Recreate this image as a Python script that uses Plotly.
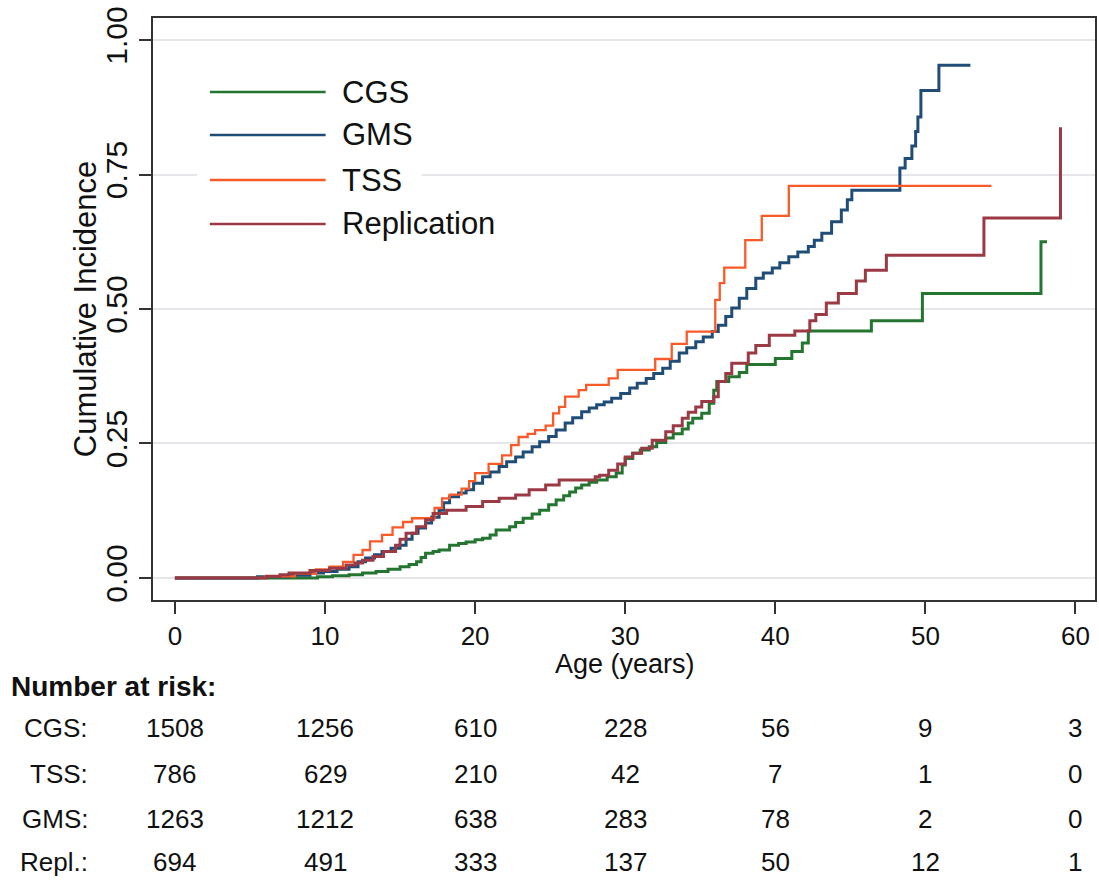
import plotly.graph_objects as go

# ---------------- data ----------------
cgs_age = [0, 9.5, 10.5, 11.6, 12.5, 13.4, 14.2, 15.0, 15.6, 16.1, 16.4, 16.7, 17.2, 17.6, 18.3, 18.9,
           19.4, 20.0, 20.5, 21.0, 21.4, 22.3, 22.7, 23.2, 23.8, 24.3, 24.9, 25.4, 25.9, 26.3, 26.7,
           27.1, 27.6, 28.1, 28.8, 29.4, 29.8, 30.0, 30.5, 31.0, 31.6, 32.1, 32.7, 33.2, 33.8, 34.2,
           34.5, 35.1, 35.6, 35.9, 36.1, 36.9, 37.6, 38.1, 40.0, 41.1, 41.8, 42.2, 46.4, 49.8, 57.7, 58.1]
cgs_ci = [0, 0.002, 0.004, 0.006, 0.009, 0.012, 0.016, 0.021, 0.025, 0.030, 0.038, 0.046, 0.049, 0.052,
          0.061, 0.064, 0.067, 0.071, 0.074, 0.080, 0.089, 0.095, 0.103, 0.111, 0.119, 0.126, 0.136,
          0.145, 0.153, 0.160, 0.167, 0.173, 0.178, 0.182, 0.188, 0.195, 0.210, 0.222, 0.232, 0.238,
          0.244, 0.252, 0.260, 0.268, 0.277, 0.288, 0.297, 0.306, 0.325, 0.349, 0.365, 0.374, 0.382,
          0.397, 0.408, 0.421, 0.437, 0.459, 0.478, 0.529, 0.625, 0.625]

gms_age = [0, 5.5, 7.6, 9.0, 9.9, 10.8, 11.6, 12.2, 12.7, 13.3, 13.8, 14.4, 15.0, 15.4, 15.8, 16.2,
           16.7, 17.1, 17.6, 17.9, 18.3, 18.9, 19.4, 19.9, 20.5, 21.0, 21.6, 22.1, 22.7, 23.2, 23.8,
           24.3, 24.9, 25.4, 26.0, 26.5, 27.1, 27.6, 28.1, 28.6, 29.1, 29.7, 30.3, 30.8, 31.4, 31.9,
           32.5, 33.0, 33.6, 34.1, 34.7, 35.2, 35.8, 36.2, 36.7, 37.1, 37.6, 38.1, 38.7, 39.2, 39.8,
           40.3, 40.9, 41.5, 42.2, 42.6, 43.1, 43.75, 44.4, 44.8, 45.1, 48.3, 48.65, 49.1, 49.35,
           49.5, 49.7, 50.9, 53.0]
gms_ci = [0, 0.002, 0.005, 0.009, 0.012, 0.016, 0.021, 0.030, 0.037, 0.043, 0.049, 0.055, 0.061,
          0.072, 0.083, 0.093, 0.102, 0.113, 0.126, 0.140, 0.151, 0.158, 0.164, 0.176, 0.188, 0.197,
          0.207, 0.216, 0.225, 0.234, 0.244, 0.253, 0.263, 0.275, 0.288, 0.298, 0.309, 0.316, 0.322,
          0.327, 0.334, 0.343, 0.353, 0.362, 0.371, 0.380, 0.390, 0.403, 0.418, 0.428, 0.439, 0.448,
          0.458, 0.470, 0.486, 0.502, 0.520, 0.538, 0.557, 0.567, 0.576, 0.586, 0.597, 0.606, 0.616,
          0.628, 0.641, 0.662, 0.684, 0.703, 0.721, 0.762, 0.780, 0.803, 0.830, 0.857, 0.906, 0.953,
          0.953]

tss_age = [0, 6.0, 8.0, 9.4, 10.3, 11.2, 11.9, 12.5, 13.0, 13.8, 14.5, 15.2, 15.8, 17.3, 17.8, 18.3,
           19.1, 19.6, 20.0, 20.9, 21.8, 22.4, 22.9, 23.5, 24.0, 24.7, 25.2, 25.6, 26.0, 26.9, 27.4,
           28.9, 29.5, 32.0, 33.1, 34.1, 36.0, 36.3, 36.6, 38.0, 39.1, 40.9, 54.4]
tss_ci = [0, 0.003, 0.008, 0.016, 0.021, 0.030, 0.043, 0.052, 0.068, 0.080, 0.094, 0.104, 0.111,
          0.130, 0.148, 0.155, 0.166, 0.180, 0.195, 0.212, 0.228, 0.247, 0.262, 0.268, 0.275, 0.283,
          0.306, 0.318, 0.337, 0.349, 0.359, 0.371, 0.387, 0.407, 0.435, 0.458, 0.517, 0.548, 0.577,
          0.628, 0.673, 0.729, 0.729]

rep_age = [0, 6.1, 7.0, 7.6, 9.0, 10.3, 11.4, 12.0, 12.5, 13.2, 13.9, 14.7, 15.0, 15.4, 16.1, 16.7,
           17.2, 18.1, 19.4, 20.5, 21.6, 22.7, 23.6, 24.7, 25.6, 28.0, 28.3, 28.9, 29.5, 30.0, 30.5,
           31.1, 31.8, 32.7, 33.2, 33.8, 34.2, 34.7, 35.1, 35.9, 36.2, 36.7, 37.1, 38.2, 38.7, 39.6,
           41.3, 42.3, 42.7, 43.4, 44.2, 45.4, 46.0, 47.4, 53.9, 59.0]
rep_ci = [0, 0.003, 0.006, 0.009, 0.014, 0.018, 0.024, 0.028, 0.033, 0.040, 0.049, 0.061, 0.072,
          0.083, 0.095, 0.108, 0.120, 0.126, 0.133, 0.142, 0.148, 0.154, 0.164, 0.173, 0.182, 0.188,
          0.191, 0.200, 0.212, 0.225, 0.232, 0.241, 0.256, 0.272, 0.283, 0.297, 0.308, 0.318, 0.328,
          0.337, 0.365, 0.380, 0.399, 0.418, 0.432, 0.451, 0.459, 0.478, 0.490, 0.511, 0.529, 0.552,
          0.572, 0.600, 0.669, 0.838]

series_names = ["CGS", "GMS", "TSS", "Replication"]
series_colors = ["#237530", "#1f4d78", "#fa5a28", "#9b3a44"]
series_widths = [3, 3, 2.3, 3]

x_ticks = [0, 10, 20, 30, 40, 50, 60]
y_ticks = [0, 0.25, 0.5, 0.75, 1.0]
y_tick_labels = ["0.00", "0.25", "0.50", "0.75", "1.00"]

risk_groups = ["CGS:", "TSS:", "GMS:", "Repl.:"]
risk_cgs = [1508, 1256, 610, 228, 56, 9, 3]
risk_tss = [786, 629, 210, 42, 7, 1, 0]
risk_gms = [1263, 1212, 638, 283, 78, 2, 0]
risk_rep = [694, 491, 333, 137, 50, 12, 1]

# ---------------- figure ----------------
FONT = "Liberation Sans, Arial, Helvetica, sans-serif"
TXT = "#111111"
W, H = 1099, 885
L, R, T, B = 153, 2, 18, 285
PW, PH = W - L - R, H - T - B


def px_x(px):
    return (px - L) / PW


def px_y(py):
    return (H - B - py) / PH


fig = go.Figure()
ages = [cgs_age, gms_age, tss_age, rep_age]
cis = [cgs_ci, gms_ci, tss_ci, rep_ci]
for name, a, c, col, w in zip(series_names, ages, cis, series_colors, series_widths):
    fig.add_trace(go.Scatter(x=a, y=c, mode="lines", name=name,
                             line=dict(color=col, width=w, shape="hv"),
                             showlegend=False))

shapes = []
annotations = []

# legend (drawn manually for long keys)
shapes.append(dict(type="rect", xref="paper", yref="paper",
                   x0=px_x(197), x1=px_x(422), y0=px_y(250), y1=px_y(62),
                   fillcolor="white", line=dict(width=0), layer="above"))
legend_rows = [92, 135, 180, 224]
for name, col, py in zip(series_names, series_colors, legend_rows):
    shapes.append(dict(type="line", xref="paper", yref="paper",
                       x0=px_x(210), x1=px_x(326), y0=px_y(py), y1=px_y(py),
                       line=dict(color=col, width=2.5), layer="above"))
    annotations.append(dict(text=name, xref="paper", yref="paper", x=px_x(340), y=px_y(py),
                            xanchor="left", yanchor="middle", showarrow=False,
                            font=dict(family=FONT, size=31, color=TXT)))

# axis titles
annotations.append(dict(text="Cumulative Incidence", xref="paper", yref="paper",
                        x=px_x(85), y=px_y(309), textangle=-90, showarrow=False,
                        xanchor="center", yanchor="middle",
                        font=dict(family=FONT, size=31, color=TXT)))
annotations.append(dict(text="Age (years)", xref="x", yref="paper", x=30, y=px_y(664),
                        showarrow=False, xanchor="center", yanchor="middle",
                        font=dict(family=FONT, size=27, color=TXT)))

# number at risk table
annotations.append(dict(text="<b>Number at risk:</b>", xref="paper", yref="paper",
                        x=px_x(9), y=px_y(686), xanchor="left", yanchor="middle",
                        showarrow=False, font=dict(family=FONT, size=28, color=TXT)))
risk_rows = [risk_cgs, risk_tss, risk_gms, risk_rep]
row_y = [728, 774, 819, 862]
for lab, vals, py in zip(risk_groups, risk_rows, row_y):
    annotations.append(dict(text=lab, xref="paper", yref="paper", x=px_x(90), y=px_y(py),
                            xanchor="right", yanchor="middle", showarrow=False,
                            font=dict(family=FONT, size=26, color=TXT)))
    for xv, v in zip(x_ticks, vals):
        annotations.append(dict(text=str(v), xref="x", yref="paper", x=xv, y=px_y(py),
                                xanchor="center", yanchor="middle", showarrow=False,
                                font=dict(family=FONT, size=26, color=TXT)))

fig.update_layout(
    width=W, height=H,
    margin=dict(l=L, r=R, t=T, b=B, pad=0),
    paper_bgcolor="white", plot_bgcolor="white",
    shapes=shapes, annotations=annotations,
    showlegend=False,
    xaxis=dict(range=[-1.46, 61.3], tickvals=x_ticks, ticks="outside", ticklen=12,
               tickwidth=2, tickcolor="#333333", showgrid=False, zeroline=False,
               showline=True, linecolor="#333333", linewidth=2, mirror=True,
               tickfont=dict(family=FONT, size=26, color=TXT)),
    yaxis=dict(range=[-0.041, 1.041], tickvals=y_ticks, ticktext=y_tick_labels,
               ticks="outside", ticklen=12, tickwidth=2, tickcolor="#333333",
               showgrid=True, gridcolor="#e6e6ea", gridwidth=2, zeroline=False,
               showline=True, linecolor="#333333", linewidth=2, mirror=True,
               tickangle=-90, tickfont=dict(family=FONT, size=30, color=TXT)),
)

fig.write_html("out.html",
               config={"displayModeBar": False},
               post_script="document.body.style.margin='0';document.body.style.padding='0';"
                           "document.documentElement.style.overflow='hidden';")
